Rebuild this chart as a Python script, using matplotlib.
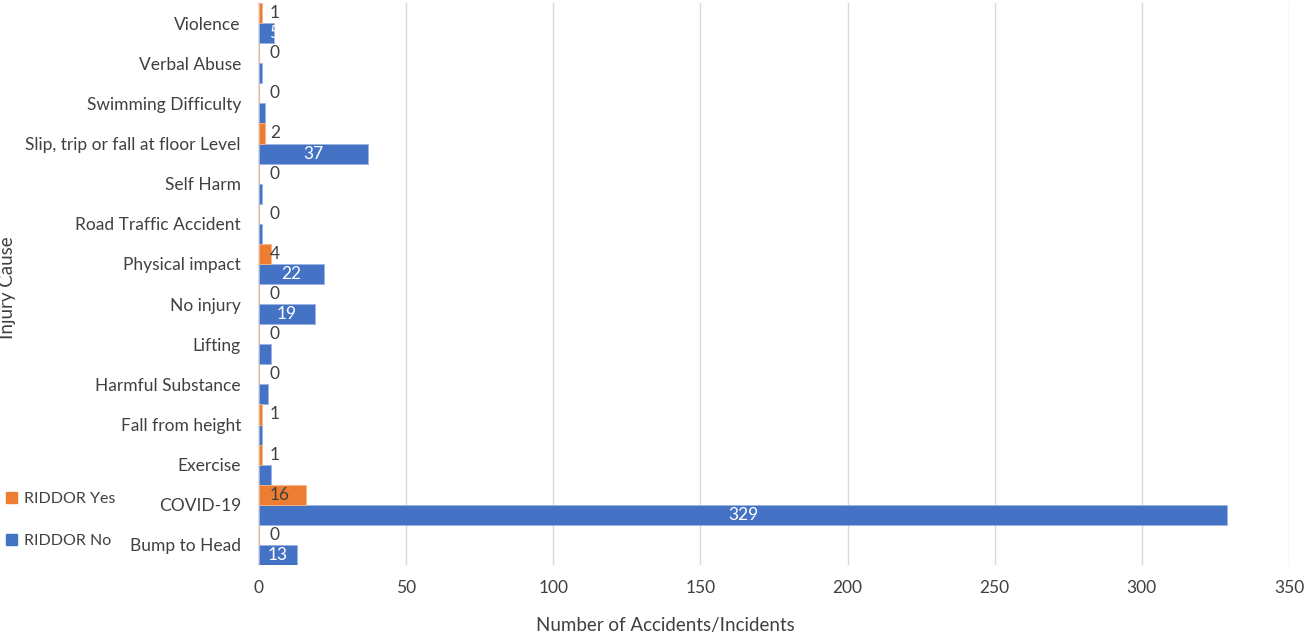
import matplotlib.pyplot as plt
import numpy as np
from matplotlib.patches import Patch

plt.rcParams['font.family'] = ['Lato', 'DejaVu Sans']

# data, bottom to top as drawn
CAUSES = ['Bump to Head', 'COVID-19', 'Exercise', 'Fall from height',
          'Harmful Substance', 'Lifting', 'No injury', 'Physical impact',
          'Road Traffic Accident', 'Self Harm', 'Slip, trip or fall at floor Level',
          'Swimming Difficulty', 'Verbal Abuse', 'Violence']
RIDDOR_NO = [13, 329, 4, 1, 3, 4, 19, 22, 1, 1, 37, 2, 1, 5]
RIDDOR_YES = [0, 16, 1, 1, 0, 0, 0, 4, 0, 0, 2, 0, 0, 1]
X_TICKS = [0, 50, 100, 150, 200, 250, 300, 350]

BLUE = '#4472C4'
ORANGE = '#ED7D31'
TEXT = '#404040'
BAR_H = 0.5
TICK_SIZE = 12.5
TITLE_SIZE = 13.5

fig = plt.figure(figsize=(13.06, 6.35), dpi=100)
ax = fig.add_axes([259 / 1306, 1 - 565 / 635, 1030 / 1306, 562 / 635])

y = np.arange(len(CAUSES))
no_bars = ax.barh(y - BAR_H / 2, RIDDOR_NO, height=BAR_H, color=BLUE,
                  edgecolor='#9DB4E0', linewidth=0.6, zorder=3)
yes_bars = ax.barh(y + BAR_H / 2, RIDDOR_YES, height=BAR_H, color=ORANGE,
                   edgecolor='#F5B58A', linewidth=0.6, zorder=3)

# white labels sit in the middle of the blue bars, clipped to the bar
for bar, v in zip(no_bars, RIDDOR_NO):
    if v < 5:
        continue
    cx = max(bar.get_width() / 2, 5)
    t = ax.text(cx, bar.get_y() + bar.get_height() / 2, str(v), ha='center',
                va='center', color='white', fontsize=TICK_SIZE, zorder=4)
    t.set_clip_path(bar)
for bar, v in zip(yes_bars, RIDDOR_YES):
    ax.annotate(str(v), (0, bar.get_y() + bar.get_height() / 2),
                xytext=(11, 0), textcoords='offset pixels',
                ha='left', va='center', color=TEXT, fontsize=TICK_SIZE, zorder=4)

ax.set_xlim(0, 350)
ax.set_ylim(-0.5, len(CAUSES) - 0.5)
ax.set_xticks(X_TICKS)
ax.set_yticks(y)
ax.set_yticklabels(CAUSES)
ax.tick_params(axis='both', length=0, labelsize=TICK_SIZE, labelcolor=TEXT)
ax.tick_params(axis='x', pad=11)
ax.tick_params(axis='y', pad=13)
ax.grid(axis='x', color='#D9D9D9', linewidth=1, zorder=0)
for side in ['top', 'right', 'bottom']:
    ax.spines[side].set_visible(False)
ax.spines['left'].set_color('#D9D9D9')
ax.spines['left'].set_linewidth(1.2)

fig.text(665 / 1306, 1 - 625 / 635, 'Number of Accidents/Incidents',
         ha='center', va='center', fontsize=TITLE_SIZE, color=TEXT)
fig.text(8 / 1306, 1 - 288 / 635, 'Injury Cause', rotation=90,
         ha='center', va='center', fontsize=TITLE_SIZE, color=TEXT)

handles = [Patch(color=ORANGE), Patch(color=BLUE)]
fig.legend(handles, ['RIDDOR Yes', 'RIDDOR No'], loc='upper left',
           bbox_to_anchor=(-0.004, 1 - 481 / 635), frameon=False,
           handlelength=0.7, handleheight=0.7, handletextpad=0.4,
           labelspacing=1.75, fontsize=11.5, labelcolor=TEXT, borderpad=0.2)

fig.savefig('out.png', dpi=100)
